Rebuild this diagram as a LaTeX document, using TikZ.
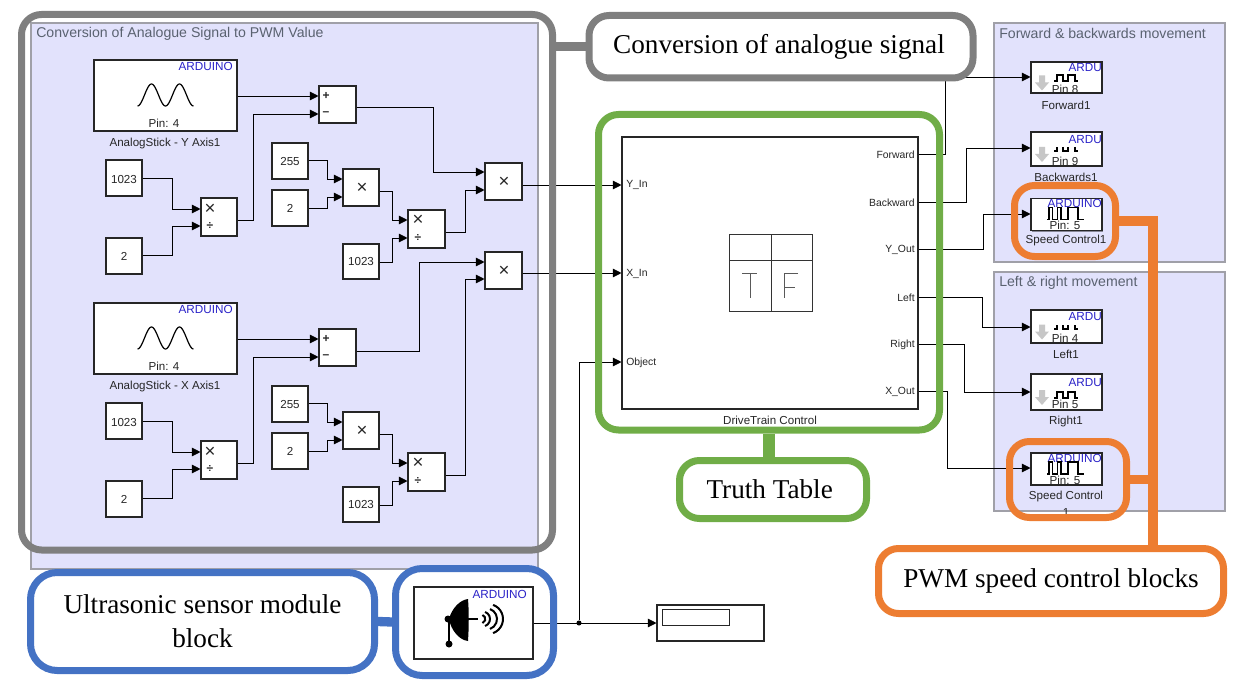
\documentclass[tikz,border=0pt]{standalone}
\usepackage{fontspec}
\setmainfont{Liberation Sans}
\newfontfamily\calloutfont{Liberation Serif}
\usetikzlibrary{arrows.meta,shadows}

\definecolor{panelfill}{HTML}{E2E2FC}
\definecolor{panelline}{HTML}{A0A0A8}
\definecolor{titlegray}{HTML}{5A6270}
\definecolor{arduinoblue}{HTML}{2A22C8}
\definecolor{framegray}{HTML}{7F7F7F}
\definecolor{framegreen}{HTML}{70AD47}
\definecolor{frameblue}{HTML}{4472C4}
\definecolor{frameorange}{HTML}{ED7D31}

\def\pxpt{0.75pt}

\tikzset{
  wh/.style 2 args={minimum width=#1*\pxpt,minimum height=#2*\pxpt},
  block/.style={draw=black!85,line width=0.8pt,fill=white,inner sep=0pt,
    drop shadow={shadow xshift=1pt,shadow yshift=-1pt,fill=black,opacity=0.4}},
  panel/.style={draw=panelline,line width=0.8pt,fill=panelfill,inner sep=0pt},
  wire/.style={draw=black,line width=0.6pt,-{Triangle[length=6.5pt,width=6.5pt]}},
  blocktext/.style={inner sep=0pt,yshift=-0.8pt,font=\fontsize{8.7}{10}\selectfont,text=black!85},
  porttext/.style={inner sep=0pt,yshift=-0.8pt,font=\fontsize{7.8}{10}\selectfont,text=black!85},
  titletext/.style={inner sep=0pt,yshift=-0.8pt,anchor=west,font=\fontsize{10.6}{12}\selectfont,text=titlegray},
  arduinotext/.style={inner sep=0pt,anchor=east,font=\fontsize{8.8}{10}\selectfont,text=arduinoblue},
  opsign/.style={inner sep=0pt,font=\fontsize{14}{14}\selectfont,text=black!85},
  opsmall/.style={inner sep=0pt,font=\bfseries\fontsize{9}{9}\selectfont,text=black!85},
  frame/.style={draw=#1,line width=5.25pt,inner sep=0pt,rounded corners=15pt},
  callout/.style={frame=#1,fill=white,align=center,text=black,
    font=\calloutfont\fontsize{20.4}{25.5}\selectfont},
  link/.style={draw=#1,line width=7pt},
  iconline/.style={line width=0.9pt,black}
}

% pulse train, full and with the tops missing
\newcommand{\pulsefull}[2]{\draw[iconline] (#1,#2+6) -- ++(3,0) -- ++(0,-6) -- ++(6,0) -- ++(0,6) -- ++(5,0) -- ++(0,-6) -- ++(7,0) -- ++(0,6) -- ++(3,0);}
\newcommand{\pulsecut}[2]{\draw[iconline] (#1,#2+6) -- ++(3,0) -- ++(0,-4) ++(6,0) -- ++(0,4) -- ++(5,0) -- ++(0,-4) ++(7,0) -- ++(0,4) -- ++(3,0);}
\newcommand{\pulsepwm}[2]{\draw[iconline] (#1,#2+12) -- ++(2,0) -- ++(0,-12) -- ++(3.5,0) -- ++(0,12) -- ++(5,0) -- ++(0,-12) -- ++(3.5,0) -- ++(0,12) -- ++(7,0) -- ++(0,-12) -- ++(10,0) -- ++(0,12) -- ++(6,0);}
% grey download arrow
\newcommand{\pinarrow}[2]{\fill[black!22] (#1-3,#2) -- (#1+3,#2) -- (#1+3,#2+7) -- (#1+7,#2+7) -- (#1,#2+15) -- (#1-7,#2+7) -- (#1-3,#2+7) -- cycle;}
% elbow wire: from node, its y, x of the bend, to node, its y
\newcommand{\wire}[5]{\draw[wire] (#1.east |- 0,#2) -| (#3,#5) -- (#4.west |- 0,#5);}

\begin{document}
\begin{tikzpicture}[x=0.75pt,y=-0.75pt]
  \useasboundingbox (0,0) rectangle (1245,688);

  % panels
  \node[panel,wh={507}{546}] (panelConv) at (284.5,296) {};
  \node[titletext] (titleConv) at (36,33) {Conversion of Analogue Signal to PWM Value};
  \node[panel,wh={231}{239}] (panelFwd) at (1109.5,142.5) {};
  \node[titletext] (titleFwd) at (999,32) {Forward \& backwards movement};
  \node[panel,wh={231}{239}] (panelTurn) at (1109.5,391.5) {};
  \node[titletext] (titleTurn) at (999,282) {Left \& right movement};

  % the two analogue channels
  \foreach \axis/\dy in {Y/0,X/243} {
    \node[block,wh={143}{71}] (stick\axis) at (165.5,95.5+\dy) {};
    \node[arduinotext] (ard\axis) at (233,66+\dy) {ARDUINO};
    \draw[iconline] plot[domain=0:2,samples=61] ({137.5+\x*28},{95+\dy+11*cos(360*\x)});
    \node[blocktext] (pin\axis) at (164,122+\dy) {Pin: 4};
    \node[blocktext] (stickname\axis) at (165,142+\dy) {AnalogStick - \axis\ Axis1};
    \node[block,wh={36}{36}] (constA\axis) at (124,178+\dy) {};
    \node[blocktext] (constAtxt\axis) at (124,178+\dy) {1023};
    \node[block,wh={36}{36}] (constB\axis) at (124,256+\dy) {};
    \node[blocktext] (constBtxt\axis) at (124,255+\dy) {2};
    \node[block,wh={36}{38}] (divA\axis) at (219,217+\dy) {};
    \node[opsign] (divAx\axis) at (210,209+\dy) {×};
    \node[opsmall] (divAd\axis) at (210,226+\dy) {÷};
    \node[block,wh={37}{37}] (sum\axis) at (337.5,104.5+\dy) {};
    \node[opsmall] (sump\axis) at (326,96+\dy) {+};
    \node[opsmall] (summ\axis) at (326,114+\dy) {–};
    \node[block,wh={36}{36}] (constC\axis) at (290,161+\dy) {};
    \node[blocktext] (constCtxt\axis) at (290,160+\dy) {255};
    \node[block,wh={36}{36}] (constD\axis) at (290,208+\dy) {};
    \node[blocktext] (constDtxt\axis) at (290,207+\dy) {2};
    \node[block,wh={36}{37}] (mul\axis) at (361,187.5+\dy) {};
    \node[opsign] (mulx\axis) at (362,188+\dy) {×};
    \node[block,wh={37}{38}] (divB\axis) at (426.5,229+\dy) {};
    \node[opsign] (divBx\axis) at (418,220+\dy) {×};
    \node[opsmall] (divBd\axis) at (418,238+\dy) {÷};
    \node[block,wh={36}{35}] (constE\axis) at (361,261.5+\dy) {};
    \node[blocktext] (constEtxt\axis) at (361,260+\dy) {1023};
    % wires of the channel
    \draw[wire] (stick\axis.east |- 0,96+\dy) -- (sum\axis.west |- 0,96+\dy);
    \wire{divA\axis}{220+\dy}{253}{sum\axis}{114+\dy}
    \wire{constA\axis}{178+\dy}{172}{divA\axis}{209+\dy}
    \wire{constB\axis}{255+\dy}{172}{divA\axis}{226+\dy}
    \wire{constC\axis}{160+\dy}{327.5}{mul\axis}{179+\dy}
    \wire{constD\axis}{208+\dy}{327.5}{mul\axis}{197+\dy}
    \wire{mul\axis}{191+\dy}{392}{divB\axis}{220+\dy}
    \wire{constE\axis}{262+\dy}{392}{divB\axis}{238+\dy}
  }

  % output products
  \node[block,wh={37}{37}] (prodY) at (503.5,181.5) {};
  \node[opsign] (prodYx) at (504,182) {×};
  \node[block,wh={37}{37}] (prodX) at (503.5,270.5) {};
  \node[opsign] (prodXx) at (504,271) {×};
  \wire{sumY}{107}{433}{prodY}{172}
  \wire{divBY}{232}{465}{prodY}{190}
  \wire{sumX}{351}{419}{prodX}{262}
  \wire{divBX}{475}{465}{prodX}{279}

  % truth table block
  \node[block,wh={296}{272}] (control) at (770,273) {};
  \node[blocktext] (controlname) at (770,419) {DriveTrain Control};
  \foreach \lab/\y in {Y\_In/184,X\_In/273,Object/362}
    \node[porttext,anchor=west] (in\y) at (626,\y) {\lab};
  \foreach \lab/\y in {Forward/154,Backward/202,Y\_Out/249,Left/297,Right/344,X\_Out/391}
    \node[porttext,anchor=east] (out\y) at (915,\y) {\lab};
  % T and F icon
  \draw[black!80,line width=0.7pt] (729,234) rectangle (812,311) (771,234) -- (771,311) (729,260) -- (812,260);
  \draw[black!65,line width=0.7pt] (742,273) -- (757,273) (750,273) -- (750,298)
    (798,273) -- (784,273) -- (784,298) (784,287) -- (795,287);
  \draw[wire] (prodY.east |- 0,185) -- (control.west |- 0,185);
  \draw[wire] (prodX.east |- 0,273) -- (control.west |- 0,273);

  % digital write blocks
  \foreach \id/\cy/\hgt/\pin in {Fwd/77.5/31/8,Back/149/34/9,Left/326.5/33/4,Right/392/36/5} {
    \node[block,wh={71}{\hgt}] (dw\id) at (1066.5,\cy) {};
    \node[arduinotext] (dwa\id) at (1102,\cy-9.5) {ARDU};
    \pinarrow{1042}{\cy-2}
    \node[blocktext] (dwp\id) at (1065,\cy+11) {Pin \pin};
  }
  \pulsefull{1054}{75}
  \pulsecut{1054}{145}
  \pulsecut{1054}{323}
  \pulsefull{1054}{392}
  \node[blocktext] (nameFwd) at (1066,104) {Forward1};
  \node[blocktext] (nameBack) at (1066,176) {Backwards1};
  \node[blocktext] (nameLeft) at (1066,353) {Left1};
  \node[blocktext] (nameRight) at (1066,420) {Right1};

  % pwm blocks
  \foreach \id/\cy in {A/214.5,B/469} {
    \node[block,wh={71}{32}] (pwm\id) at (1066.5,\cy) {};
    \node[arduinotext] (pwma\id) at (1102,\cy-11) {ARDUINO};
    \pulsepwm{1047}{\cy-7}
    \node[blocktext] (pwmp\id) at (1065,\cy+10) {Pin: 5};
  }
  \node[blocktext] (namePwmA) at (1066,239) {Speed Control1};
  \node[blocktext,align=center] (namePwmB) at (1066,503) {Speed Control\\[3pt]1};

  % wires to the right
  \foreach \yf/\midx/\tgt/\yt in {154/945/dwFwd/77,202/966/dwBack/148,249/983/pwmA/214,297/982/dwLeft/327,344/964/dwRight/392,391/947/pwmB/468} {
    \wire{control}{\yf}{\midx}{\tgt}{\yt}
  }

  % ultrasonic sensor
  \node[block,wh={119}{72}] (sensor) at (473.5,623) {};
  \node[arduinotext] (sensorard) at (527,594) {ARDUINO};
  \fill[black] (468,599) .. controls (460,600) and (452,608) .. (449,619)
    .. controls (451,630) and (459,640) .. (468,641) .. controls (469,626) and (469,612) .. (468,599) -- cycle;
  \fill[black] (448,619) circle (3.5) (449,644) circle (3.5);
  \draw[black,line width=1.2pt] (449,619) -- (449,644);
  \draw[black,line width=1pt] (468,619) -- (478,619);
  \foreach \cx/\rad in {481/4.3,482.5/7.5,486.4/10.6,488/15}
    \draw[black,line width=1.5pt] (\cx,619) ++(-70:\rad) arc[start angle=-70,end angle=70,radius=\rad];

  % display
  \node[block,wh={107}{36}] (display) at (710.5,623) {};
  \node[draw=black!85,line width=0.6pt,inner sep=0pt,wh={67}{16}] (displaybox) at (695.5,617) {};
  \node[circle,fill=black,inner sep=0pt,minimum size=3.8pt] (branch) at (579,623) {};
  \draw[wire] (sensor.east |- 0,623) -- (display.west |- 0,623);
  \draw[wire] (branch) |- (control.west |- 0,362);

  % callouts on top
  \node[frame=framegray,wh={531}{535.5}] (frameConv) at (287,282.25) {};
  \node[frame=framegreen,wh={341}{315.5}] (frameTable) at (769,272.25) {};
  \node[frame=frameblue,rounded corners=20pt,wh={158}{107}] (frameSensor) at (474.5,622) {};
  \node[frame=frameorange,wh={101}{71}] (framePwmA) at (1065,221) {};
  \node[frame=frameorange,wh={117}{76}] (framePwmB) at (1068,479.5) {};
  \node[callout=framegray,wh={384}{62.5}] (calloutConv) at (781,46.75) {\hspace{-3pt}Conversion of analogue signal};
  \node[callout=framegreen,wh={187}{58}] (calloutTable) at (773,489.5) {\hspace{-5pt}Truth Table};
  \node[callout=frameblue,rounded corners=20pt,wh={344}{98}] (calloutSensor) at (202.5,621.5) {Ultrasonic sensor module\\block};
  \node[callout=frameorange,wh={345}{65}] (calloutPwm) at (1051,581) {PWM speed control blocks};
  \draw[link=framegray] (calloutConv.west) -- (frameConv.east |- calloutConv.west);
  \draw[link=framegreen,line width=9pt] (frameTable.south) -- (frameTable.south |- calloutTable.north);
  \draw[link=frameblue] (calloutSensor.east) -- (frameSensor.west);
  \draw[link=frameorange] (framePwmA.east) -| (calloutPwm.north -| 1153,0);
  \draw[link=frameorange] (framePwmB.east) -- (1153,0 |- framePwmB.east);
\end{tikzpicture}
\end{document}
